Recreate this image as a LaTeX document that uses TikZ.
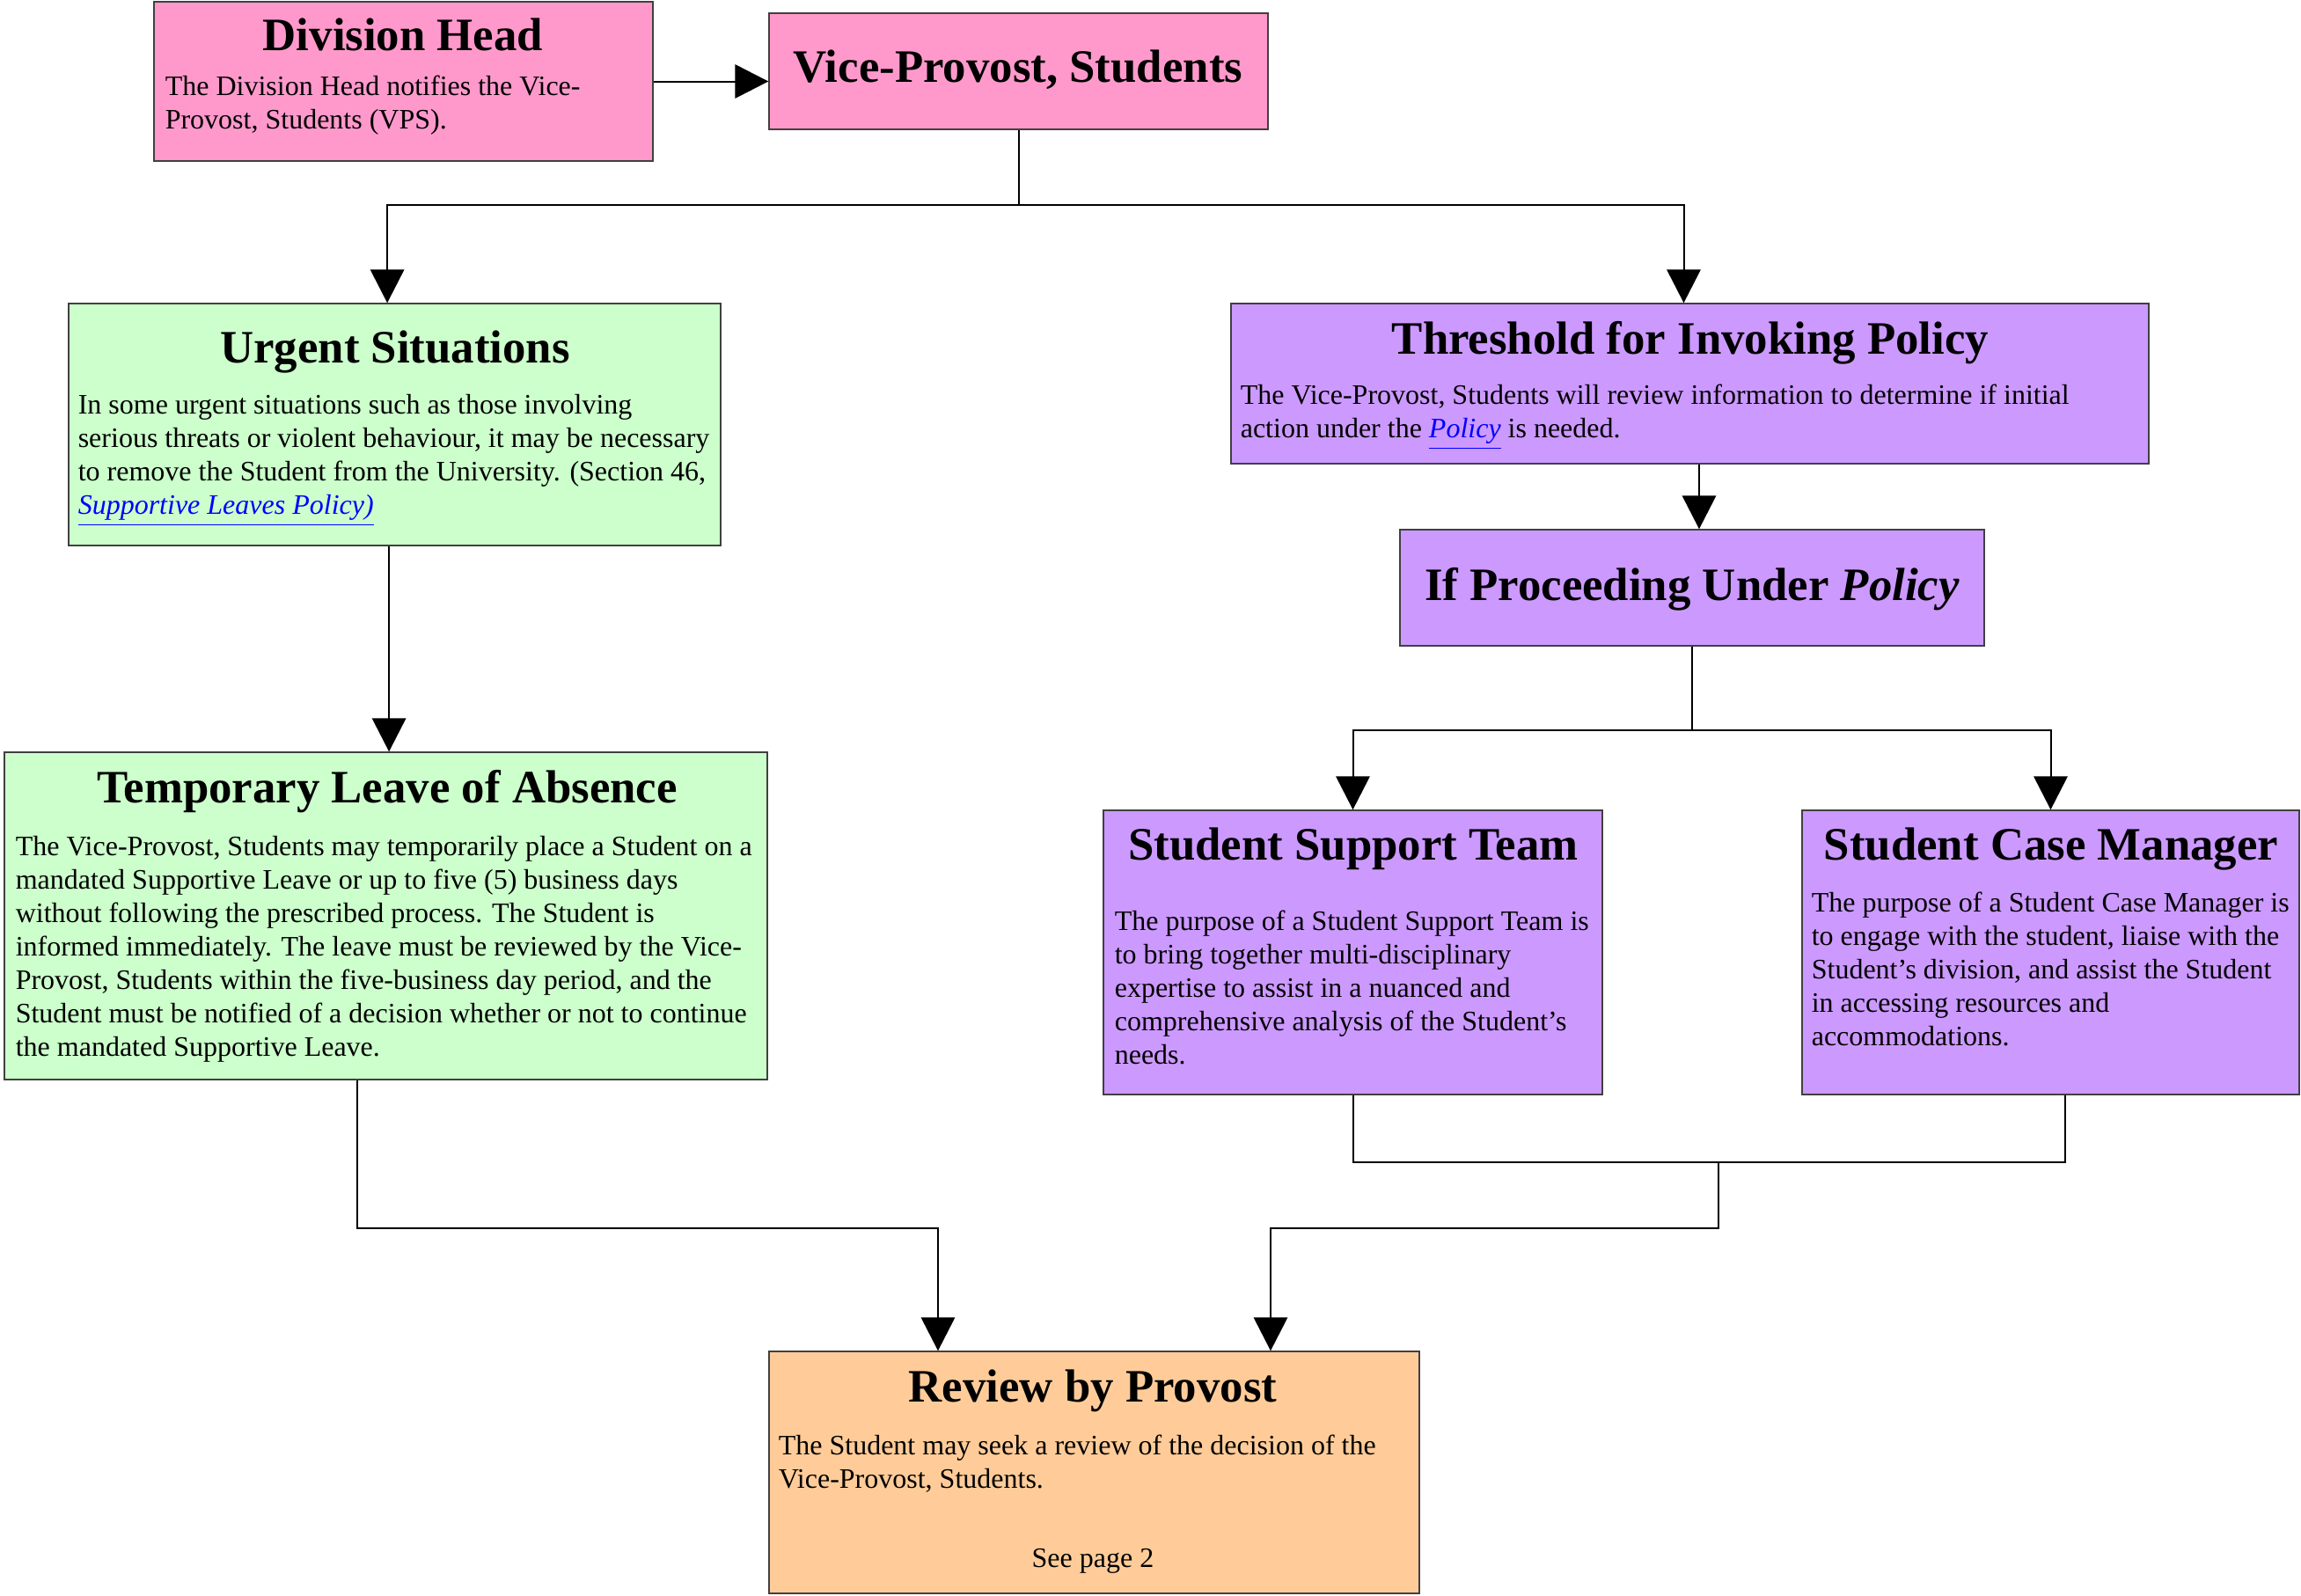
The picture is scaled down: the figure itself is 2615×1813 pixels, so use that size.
\documentclass[tikz,border=0pt]{standalone}
\usepackage{fontspec}
\setmainfont{Liberation Serif}
\usetikzlibrary{arrows.meta,fit}
\definecolor{pinkc}{HTML}{FF99CC}
\definecolor{greenc}{HTML}{CCFFCC}
\definecolor{purplec}{HTML}{CC99FF}
\definecolor{orangec}{HTML}{FFCC99}
\definecolor{linkc}{HTML}{0000FF}
\tikzset{
 box/.style={draw=black!75, line width=0.35pt, inner sep=0pt},
 ttl/.style={anchor=base, inner sep=0pt, font=\fontsize{13.2}{15}\selectfont\bfseries},
 bdy/.style={anchor=base west, inner sep=0pt, font=\fontsize{8}{9.5}\selectfont},
 conn/.style={line width=0.5pt, draw=black},
 arr/.style={conn, -{Triangle[length=9.5pt,width=9.6pt]}},
}
\newcommand\bodylines[1]{\parbox[t]{300pt}{\raggedright #1}}
\newcommand\linktext[1]{{\color{linkc}\underline{\textit{#1}}}}
\begin{document}
\begin{tikzpicture}[x=0.25pt,y=-0.25pt]
\useasboundingbox (0,0) rectangle (2615,1813);
% boxes
\node[box, fill=pinkc, fit={(175,2)(742,183)}] (dh) {};
\node[box, fill=pinkc, fit={(874,15)(1441,147)}] (vp) {};
\node[box, fill=greenc, fit={(78,345)(819,620)}] (urg) {};
\node[box, fill=purplec, fit={(1399,345)(2442,527)}] (thr) {};
\node[box, fill=purplec, fit={(1591,602)(2255,734)}] (ifp) {};
\node[box, fill=greenc, fit={(5,855)(872,1227)}] (tla) {};
\node[box, fill=purplec, fit={(1254,921)(1821,1244)}] (sst) {};
\node[box, fill=purplec, fit={(2048,921)(2613,1244)}] (scm) {};
\node[box, fill=orangec, fit={(874,1536)(1613,1811)}] (rev) {};
% texts
\node[ttl] (dht) at (458,57) {Division Head};
\node[bdy] (dhb) at (187,108) {\bodylines{The Division Head notifies the Vice-\\Provost, Students (VPS).}};
\node[ttl] (vpt) at (1157,93) {Vice-Provost, Students};
\node[ttl] (urgt) at (449,412) {Urgent Situations};
\node[bdy] (urgb) at (88,470) {\bodylines{In some urgent situations such as those involving\\serious threats or violent behaviour, it may be necessary\\to remove the Student from the University. (Section 46,\\\linktext{Supportive Leaves Policy)}}};
\node[ttl] (thrt) at (1921,402) {Threshold for Invoking Policy};
\node[bdy] (thrb) at (1409,459) {\bodylines{The Vice-Provost, Students will review information to determine if initial\\action under the \linktext{Policy} is needed.}};
\node[ttl] (ifpt) at (1923,682) {If Proceeding Under \textit{Policy}};
\node[ttl] (tlat) at (440,912) {Temporary Leave of Absence};
\node[bdy] (tlab) at (17,972) {\bodylines{The Vice-Provost, Students may temporarily place a Student on a\\mandated Supportive Leave or up to five (5) business days\\without following the prescribed process. The Student is\\informed immediately. The leave must be reviewed by the Vice-\\Provost, Students within the five-business day period, and the\\Student must be notified of a decision whether or not to continue\\the mandated Supportive Leave.}};
\node[ttl] (sstt) at (1538,977) {Student Support Team};
\node[bdy] (sstb) at (1266,1057) {\bodylines{The purpose of a Student Support Team is\\to bring together multi-disciplinary\\expertise to assist in a nuanced and\\comprehensive analysis of the Student’s\\needs.}};
\node[ttl] (scmt) at (2331,977) {Student Case Manager};
\node[bdy] (scmb) at (2058,1036) {\bodylines{The purpose of a Student Case Manager is\\to engage with the student, liaise with the\\Student’s division, and assist the Student\\in accessing resources and\\accommodations.}};
\node[ttl] (revt) at (1242,1593) {Review by Provost};
\node[bdy] (revb) at (884,1653) {\bodylines{The Student may seek a review of the decision of the\\Vice-Provost, Students.}};
\node[bdy, anchor=base] (revp) at (1242,1781) {See page 2};
% connectors
\draw[arr] (dh.east) -- (dh.east -| vp.west);
\path (vp.south) ++(0,85) coordinate (j1);
\draw[conn] (vp.south) -- (j1);
\draw[arr] (j1) -| ([xshift=-2.1pt]urg.north);
\draw[arr] (j1) -| ([xshift=-1.75pt]thr.north);
\draw[arr] ([xshift=2pt]ifp.north |- thr.south) -- ([xshift=2pt]ifp.north);
\path (ifp.south) ++(0,95) coordinate (j2);
\draw[conn] (ifp.south) -- (j2);
\draw[arr] (j2) -| (sst.north);
\draw[arr] (j2) -| (scm.north);
\draw[arr] ([xshift=0.9pt]tla.north |- urg.south) -- ([xshift=0.9pt]tla.north);
\coordinate (m1) at (1066,1396);
\draw[arr] ([xshift=-8.25pt]tla.south) |- (m1) -- (m1 |- rev.north);
\coordinate (j3) at (1953,1321);
\draw[conn] (sst.south) |- (j3);
\draw[conn] ([xshift=4.1pt]scm.south) |- (j3);
\coordinate (m2) at (1444,1396);
\draw[arr] (j3) |- (m2) -- (m2 |- rev.north);
\end{tikzpicture}
\end{document}
